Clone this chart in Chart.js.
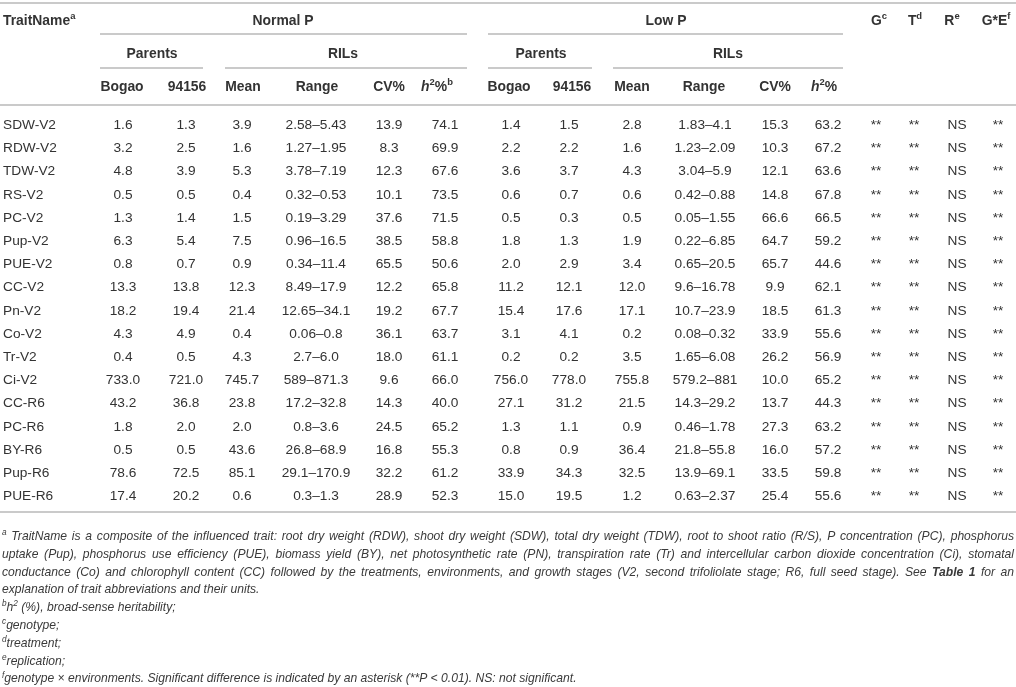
<!DOCTYPE html>
<html><head><meta charset="utf-8">
<script src="https://cdn.jsdelivr.net/npm/chart.js@4.4.1/dist/chart.umd.min.js"></script>
<style>html,body{margin:0;padding:0;background:#fff;}#wrap{width:1016px;height:687px;position:relative;}</style>
</head><body><div id="wrap"><canvas id="c" width="1016" height="687"></canvas></div>
<script>
// ---------- DATA ----------
const traits = ['SDW-V2','RDW-V2','TDW-V2','RS-V2','PC-V2','Pup-V2','PUE-V2','CC-V2','Pn-V2','Co-V2','Tr-V2','Ci-V2','CC-R6','PC-R6','BY-R6','Pup-R6','PUE-R6'];
const normalBogao = [1.6,3.2,4.8,0.5,1.3,6.3,0.8,13.3,18.2,4.3,0.4,733.0,43.2,1.8,0.5,78.6,17.4];
const normal94156 = [1.3,2.5,3.9,0.5,1.4,5.4,0.7,13.8,19.4,4.9,0.5,721.0,36.8,2.0,0.5,72.5,20.2];
const normalMean  = [3.9,1.6,5.3,0.4,1.5,7.5,0.9,12.3,21.4,0.4,4.3,745.7,23.8,2.0,43.6,85.1,0.6];
const normalRange = ['2.58–5.43','1.27–1.95','3.78–7.19','0.32–0.53','0.19–3.29','0.96–16.5','0.34–11.4','8.49–17.9','12.65–34.1','0.06–0.8','2.7–6.0','589–871.3','17.2–32.8','0.8–3.6','26.8–68.9','29.1–170.9','0.3–1.3'];
const normalCV    = [13.9,8.3,12.3,10.1,37.6,38.5,65.5,12.2,19.2,36.1,18.0,9.6,14.3,24.5,16.8,32.2,28.9];
const normalH2    = [74.1,69.9,67.6,73.5,71.5,58.8,50.6,65.8,67.7,63.7,61.1,66.0,40.0,65.2,55.3,61.2,52.3];
const lowBogao    = [1.4,2.2,3.6,0.6,0.5,1.8,2.0,11.2,15.4,3.1,0.2,756.0,27.1,1.3,0.8,33.9,15.0];
const low94156    = [1.5,2.2,3.7,0.7,0.3,1.3,2.9,12.1,17.6,4.1,0.2,778.0,31.2,1.1,0.9,34.3,19.5];
const lowMean     = [2.8,1.6,4.3,0.6,0.5,1.9,3.4,12.0,17.1,0.2,3.5,755.8,21.5,0.9,36.4,32.5,1.2];
const lowRange    = ['1.83–4.1','1.23–2.09','3.04–5.9','0.42–0.88','0.05–1.55','0.22–6.85','0.65–20.5','9.6–16.78','10.7–23.9','0.08–0.32','1.65–6.08','579.2–881','14.3–29.2','0.46–1.78','21.8–55.8','13.9–69.1','0.63–2.37'];
const lowCV       = [15.3,10.3,12.1,14.8,66.6,64.7,65.7,9.9,18.5,33.9,26.2,10.0,13.7,27.3,16.0,33.5,25.4];
const lowH2       = [63.2,67.2,63.6,67.8,66.5,59.2,44.6,62.1,61.3,55.6,56.9,65.2,44.3,63.2,57.2,59.8,55.6];
const sigG  = ['**','**','**','**','**','**','**','**','**','**','**','**','**','**','**','**','**'];
const sigT  = ['**','**','**','**','**','**','**','**','**','**','**','**','**','**','**','**','**'];
const sigR  = ['NS','NS','NS','NS','NS','NS','NS','NS','NS','NS','NS','NS','NS','NS','NS','NS','NS'];
const sigGE = ['**','**','**','**','**','**','**','**','**','**','**','**','**','**','**','**','**'];

const footnotes = [
  '^{a} TraitName is a composite of the influenced trait: root dry weight (RDW), shoot dry weight (SDW), total dry weight (TDW), root to shoot ratio (R/S), P concentration (PC), phosphorus',
  'uptake (Pup), phosphorus use efficiency (PUE), biomass yield (BY), net photosynthetic rate (PN), transpiration rate (Tr) and intercellular carbon dioxide concentration (Ci), stomatal',
  'conductance (Co) and chlorophyll content (CC) followed by the treatments, environments, and growth stages (V2, second trifoliolate stage; R6, full seed stage). See !{Table} !{1} for an',
  'explanation of trait abbreviations and their units.',
  '^{b}h^{2} (%), broad-sense heritability;',
  '^{c}genotype;',
  '^{d}treatment;',
  '^{e}replication;',
  '^{f}genotype × environments. Significant difference is indicated by an asterisk (**P < 0.01). NS: not significant.'
];
const justifiedLines = [true,true,true,false,false,false,false,false,false];

// ---------- LAYOUT (pixels of the 1016x687 page) ----------
const W = 1016, H = 687;
const ROW0 = 124, PITCH = 23.2;               // first data row centre, row pitch
const toRow = px => (px - ROW0) / PITCH;       // page px -> y-scale units (row index)
const FONT = '"Liberation Sans", Arial, Helvetica, sans-serif';
const BODY = 13.7, HEAD = 13.9, NOTE_PREF = 11.7;
const TEXT = '#333333', NOTE_COLOR = '#3a3a3a', RULE = '#b9b9b9';

const dataColumns = [
  {values: normalBogao, cx: 123}, {values: normal94156, cx: 186}, {values: normalMean, cx: 242},
  {values: normalRange, cx: 316}, {values: normalCV, cx: 389}, {values: normalH2, cx: 445},
  {values: lowBogao, cx: 511}, {values: low94156, cx: 569}, {values: lowMean, cx: 632},
  {values: lowRange, cx: 705}, {values: lowCV, cx: 775}, {values: lowH2, cx: 828},
  {values: sigG, cx: 876}, {values: sigT, cx: 914}, {values: sigR, cx: 957}, {values: sigGE, cx: 998}
];
const headRow1 = 20, headRow2 = 53, headRow3 = 86;
const headers = [
  {t:'TraitName^{a}', x:3, yp:headRow1, align:'left'},
  {t:'Normal P', x:283, yp:headRow1}, {t:'Low P', x:666, yp:headRow1},
  {t:'G^{c}', x:879, yp:headRow1}, {t:'T^{d}', x:915, yp:headRow1},
  {t:'R^{e}', x:952, yp:headRow1}, {t:'G*E^{f}', x:996, yp:headRow1},
  {t:'Parents', x:152, yp:headRow2}, {t:'RILs', x:343, yp:headRow2},
  {t:'Parents', x:541, yp:headRow2}, {t:'RILs', x:728, yp:headRow2},
  {t:'Bogao', x:122, yp:headRow3}, {t:'94156', x:187, yp:headRow3}, {t:'Mean', x:243, yp:headRow3},
  {t:'Range', x:317, yp:headRow3}, {t:'CV%', x:389, yp:headRow3}, {t:'~{h}^{2}%^{b}', x:437, yp:headRow3},
  {t:'Bogao', x:509, yp:headRow3}, {t:'94156', x:572, yp:headRow3}, {t:'Mean', x:632, yp:headRow3},
  {t:'Range', x:704, yp:headRow3}, {t:'CV%', x:775, yp:headRow3}, {t:'~{h}^{2}%', x:824, yp:headRow3}
];
const rules = [
  {yp:3, x0:0, x1:W}, {yp:34, x0:100, x1:467}, {yp:34, x0:488, x1:843},
  {yp:68, x0:100, x1:203}, {yp:68, x0:225, x1:467}, {yp:68, x0:488, x1:592}, {yp:68, x0:613, x1:843},
  {yp:105, x0:0, x1:W}, {yp:512, x0:0, x1:W}
];
const NOTE_TOP = 536, NOTE_PITCH = 17.8, NOTE_LEFT = 2, NOTE_RIGHT = 1014;

// ---------- rich text helpers ----------
function fontStr(sz, bold, italic){ return (italic?'italic ':'') + (bold?'bold ':'') + sz + 'px ' + FONT; }
function parse(str, base){
  const out = [];
  const re = /(\^\{[^}]*\}|!\{[^}]*\}|~\{[^}]*\})/g;
  let last = 0, m;
  while ((m = re.exec(str))){
    if (m.index > last) out.push(Object.assign({}, base, {t: str.slice(last, m.index)}));
    const tok = m[0], inner = tok.slice(2, -1);
    if (tok[0] === '^') out.push(Object.assign({}, base, {t: inner, sup: true}));
    else if (tok[0] === '!') out.push(Object.assign({}, base, {t: inner, bold: true}));
    else out.push(Object.assign({}, base, {t: inner, italic: true}));
    last = m.index + tok.length;
  }
  if (last < str.length) out.push(Object.assign({}, base, {t: str.slice(last)}));
  return out;
}
function segW(ctx, s, size){ ctx.font = fontStr(s.sup ? size*0.68 : size, s.bold, s.italic); return ctx.measureText(s.t).width; }
function segsW(ctx, segs, size){ return segs.reduce((a, s) => a + segW(ctx, s, size), 0); }
function drawSegs(ctx, segs, x, baseline, size, align){
  const w = segsW(ctx, segs, size);
  let cx = align === 'left' ? x : align === 'right' ? x - w : x - w/2;
  segs.forEach(s => {
    const sw = segW(ctx, s, size);
    ctx.font = fontStr(s.sup ? size*0.68 : size, s.bold, s.italic);
    ctx.fillText(s.t, cx, s.sup ? baseline - size*0.4 : baseline);
    cx += sw;
  });
}
function fmt(v){ return typeof v === 'number' ? v.toFixed(1) : v; }

// ---------- plugin drawing the cell texts through the scales ----------
const tablePlugin = {
  id: 'tableText',
  afterDatasetsDraw(chart){
    const ctx = chart.ctx, xs = chart.scales.x, ys = chart.scales.y;
    ctx.save();
    ctx.fillStyle = TEXT;
    ctx.textBaseline = 'alphabetic';
    ctx.textAlign = 'left';
    headers.forEach(h => {
      const segs = parse(h.t, {bold: true});
      const base = ys.getPixelForValue(toRow(h.yp)) + HEAD*0.36;
      drawSegs(ctx, segs, xs.getPixelForValue(h.x), base, HEAD, h.align || 'center');
    });
    traits.forEach((name, i) => {
      const base = ys.getPixelForValue(i) + BODY*0.36;
      drawSegs(ctx, [{t: name}], xs.getPixelForValue(3), base, BODY, 'left');
      dataColumns.forEach(col => {
        drawSegs(ctx, [{t: fmt(col.values[i])}], xs.getPixelForValue(col.cx), base, BODY, 'center');
      });
    });
    // footnotes: font size chosen so the justified lines break where the reference breaks
    ctx.fillStyle = NOTE_COLOR;
    const lines = footnotes.map(l => l.split(' ').map(w => parse(w, {italic: true})));
    const avail = NOTE_RIGHT - NOTE_LEFT;
    const sp1 = segW(ctx, {t:' ', italic:true}, 1);
    let sMax = 99, sMin = 0;
    lines.forEach((words, k) => {
      if (!justifiedLines[k]) return;
      const nat = words.reduce((a, w) => a + segsW(ctx, w, 1), 0) + (words.length-1) * sp1;
      const withNext = nat + sp1 + segsW(ctx, lines[k+1][0], 1);
      sMax = Math.min(sMax, avail / nat);
      sMin = Math.max(sMin, avail / withNext);
    });
    let size = NOTE_PREF;
    if (sMin <= sMax) size = Math.min(Math.max(size, sMin + 0.01), sMax - 0.01); else size = sMax - 0.01;
    lines.forEach((words, k) => {
      const yp = NOTE_TOP + k * NOTE_PITCH;
      const base = ys.getPixelForValue(toRow(yp)) + size*0.33;
      const space = segW(ctx, {t:' ', italic:true}, size);
      const wsum = words.reduce((a, w) => a + segsW(ctx, w, size), 0);
      const gap = justifiedLines[k] ? (avail - wsum) / (words.length - 1) : space;
      let cx = xs.getPixelForValue(NOTE_LEFT);
      words.forEach(w => {
        drawSegs(ctx, w, cx, base, size, 'left');
        cx += segsW(ctx, w, size) + gap;
      });
    });
    ctx.restore();
  }
};

// ---------- chart ----------
const ruleDatasets = rules.map(r => ({
  type: 'line', showLine: true, data: [{x: r.x0, y: toRow(r.yp)}, {x: r.x1, y: toRow(r.yp)}],
  borderColor: RULE, borderWidth: 1.6, pointRadius: 0, pointHoverRadius: 0, fill: false
}));

new Chart(document.getElementById('c'), {
  type: 'scatter',
  data: { datasets: ruleDatasets },
  options: {
    responsive: false, animation: false, events: [],
    layout: { padding: 0 },
    plugins: { legend: { display: false }, tooltip: { enabled: false }, title: { display: false } },
    scales: {
      x: { type: 'linear', display: false, min: 0, max: W },
      y: { type: 'linear', display: false, reverse: true, min: toRow(0), max: toRow(H) }
    }
  },
  plugins: [tablePlugin]
});
</script></body></html>
